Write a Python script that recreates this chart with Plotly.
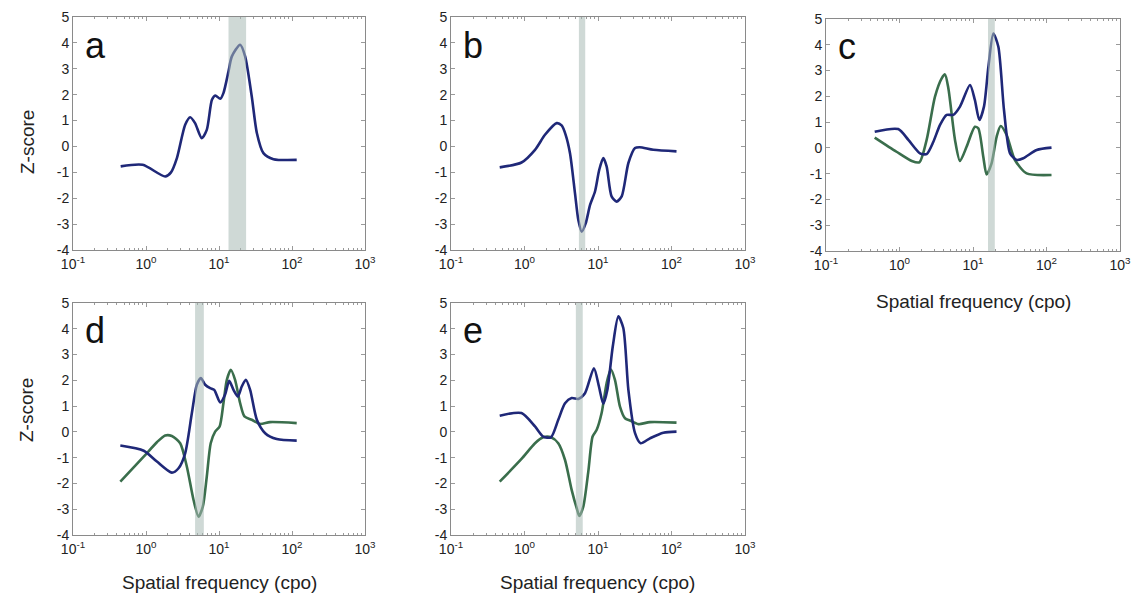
import plotly.graph_objects as go

# ---------------- data ----------------
a_x = [0.45, 0.9, 1.83, 2.2, 2.65, 3.44, 4.03, 4.7, 5.8, 6.8, 8.0, 8.9, 10.4, 11.5, 13.5, 15.0, 19.5, 22.8, 28.1, 33.0, 40.6, 55.7, 116]
a_blue = [-0.77, -0.71, -1.16, -1.0, -0.45, 0.84, 1.13, 0.9, 0.32, 0.64, 1.8, 1.97, 1.84, 2.06, 2.9, 3.48, 3.93, 3.48, 1.93, 0.52, -0.26, -0.49, -0.52]

b_x = [0.46, 0.91, 1.39, 1.9, 2.74, 3.2, 3.63, 4.16, 4.86, 5.4, 6.0, 6.8, 7.8, 9.1, 10.4, 11.8, 13.1, 15.3, 17.9, 21.0, 25.9, 31.9, 37.0, 56.6, 117]
b_blue = [-0.81, -0.62, -0.13, 0.45, 0.9, 0.81, 0.45, -0.26, -1.8, -2.84, -3.29, -2.97, -2.26, -1.74, -0.9, -0.45, -0.77, -1.93, -2.13, -1.93, -0.64, -0.06, -0.03, -0.13, -0.19]

c_blue_x = [0.46, 0.96, 1.32, 1.9, 2.34, 2.89, 3.56, 4.38, 5.4, 6.65, 9.1, 10.6, 12.2, 14.1, 16.2, 18.9, 22.1, 26.4, 31.9, 39.3, 48.4, 73.5, 117]
c_blue = [0.63, 0.73, 0.31, -0.21, -0.24, 0.24, 0.89, 1.28, 1.28, 1.6, 2.44, 1.86, 1.08, 1.6, 3.15, 4.44, 3.93, 1.47, -0.21, -0.47, -0.4, -0.08, 0.01]
c_green_x = [0.46, 0.91, 1.47, 1.86, 2.34, 3.04, 3.75, 4.16, 4.62, 5.69, 6.65, 8.2, 10.6, 11.8, 13.8, 15.3, 17.9, 21.0, 23.8, 28.7, 37.2, 53.7, 117]
c_green = [0.40, -0.15, -0.51, -0.56, 0.31, 1.99, 2.7, 2.85, 2.31, 0.31, -0.51, 0.05, 0.82, 0.76, -0.34, -1.03, -0.6, 0.44, 0.85, 0.5, -0.47, -0.99, -1.05]

d_blue_x = [0.445, 0.93, 1.41, 2.26, 2.79, 3.44, 4.25, 4.97, 5.64, 6.47, 7.57, 8.6, 10.4, 12.1, 13.8, 15.8, 18.1, 20.5, 23.3, 26.7, 33.0, 42.9, 61.8, 116]
d_blue = [-0.53, -0.73, -1.15, -1.58, -1.41, -0.83, 0.73, 1.83, 2.09, 1.83, 1.7, 1.63, 1.14, 1.44, 1.98, 1.63, 1.37, 1.76, 2.02, 1.63, 0.47, -0.05, -0.28, -0.34]
d_green_x = [0.445, 0.93, 1.41, 1.83, 2.26, 2.94, 3.63, 4.48, 5.24, 6.0, 6.8, 7.7, 8.86, 10.2, 11.5, 12.8, 14.5, 16.6, 19.5, 22.3, 28.1, 36.6, 50.0, 116]
d_green = [-1.93, -0.96, -0.4, -0.14, -0.16, -0.44, -1.35, -2.64, -3.29, -2.9, -1.74, -0.44, 0.01, 0.21, 1.11, 2.02, 2.41, 2.02, 1.11, 0.6, 0.47, 0.31, 0.38, 0.34]

e_blue_x = [0.46, 0.91, 1.39, 1.8, 2.29, 2.88, 3.56, 4.38, 5.4, 6.65, 8.8, 10.3, 11.8, 13.4, 15.9, 18.9, 22.1, 25.9, 31.9, 38.0, 50.9, 77.5, 117]
e_blue = [0.63, 0.73, 0.21, -0.18, -0.21, 0.47, 1.11, 1.31, 1.28, 1.5, 2.47, 1.76, 1.09, 1.63, 3.32, 4.48, 4.03, 1.63, -0.05, -0.44, -0.25, -0.03, 0.01]
e_green_x = [0.46, 0.91, 1.39, 1.8, 2.29, 2.88, 3.56, 4.38, 5.13, 5.57, 6.31, 7.38, 8.45, 9.6, 11.2, 13.1, 14.9, 17.0, 19.9, 23.3, 27.2, 35.4, 50.9, 117]
e_green = [-1.93, -1.05, -0.44, -0.21, -0.21, -0.44, -1.09, -2.25, -2.96, -3.26, -2.9, -1.54, -0.18, 0.08, 0.73, 1.89, 2.43, 2.02, 0.98, 0.53, 0.44, 0.3, 0.38, 0.36]

bands = {"a": (13.5, 23.5), "b": (5.5, 6.7), "c": (16.0, 19.8), "d": (4.7, 6.2), "e": (5.0, 6.2)}

x_tickvals = [0.1, 1, 10, 100, 1000]
x_ticktext = ["10<sup>-1</sup>", "10<sup>0</sup>", "10<sup>1</sup>", "10<sup>2</sup>", "10<sup>3</sup>"]
y_tickvals = [-4, -3, -2, -1, 0, 1, 2, 3, 4, 5]
y_ticktext = ["-4", "-3", "-2", "-1", "0", "1", "2", "3", "4", "5"]

BLUE = "#1f2878"
GREEN = "#3a6e4c"
W, H = 1133, 596

# ---------------- layout geometry (pixels) ----------------
panels = {
    "a": dict(x0=73, x1=365, y0=17, y1=250),
    "b": dict(x0=451, x1=745, y0=17, y1=250),
    "c": dict(x0=826, x1=1120, y0=19, y1=251),
    "d": dict(x0=73, x1=365, y0=303, y1=535),
    "e": dict(x0=451, x1=745, y0=303, y1=535),
}
series = {
    "a": [(a_x, a_blue, BLUE)],
    "b": [(b_x, b_blue, BLUE)],
    "c": [(c_green_x, c_green, GREEN), (c_blue_x, c_blue, BLUE)],
    "d": [(d_green_x, d_green, GREEN), (d_blue_x, d_blue, BLUE)],
    "e": [(e_green_x, e_green, GREEN), (e_blue_x, e_blue, BLUE)],
}

minor_vals = [m * 10 ** k for k in range(-1, 3) for m in range(2, 10)]

fig = go.Figure()
layout = dict(width=W, height=H, margin=dict(l=0, r=0, t=0, b=0, autoexpand=False),
              paper_bgcolor="white", plot_bgcolor="white", showlegend=False,
              font=dict(family="Liberation Sans, Arial, sans-serif", color="#222", size=14))
shapes = []
annotations = []

for i, key in enumerate(["a", "b", "c", "d", "e"]):
    p = panels[key]
    n = "" if i == 0 else str(i + 1)
    xa, ya = "x" + n, "y" + n
    for xs, ys, col in series[key]:
        fig.add_trace(go.Scatter(x=xs, y=ys, mode="lines", xaxis=xa, yaxis=ya,
                                 line=dict(color=col, width=2.6, shape="spline", smoothing=0.7)))
    axis_common = dict(showgrid=False, zeroline=False, showline=True, linecolor="#8a8a8a",
                       linewidth=1, mirror="ticks", ticks="inside", tickcolor="#9a9a9a",
                       automargin=False, tickfont=dict(size=14, color="#222"))
    layout["xaxis" + n] = dict(axis_common, type="log", range=[-1, 3],
                               domain=[p["x0"] / W, p["x1"] / W],
                               anchor=ya, tickmode="array", tickvals=x_tickvals, ticktext=x_ticktext,
                               ticklen=4, ticklabelstandoff=1,
                               minor=dict(tickmode="array", tickvals=minor_vals, ticks="inside",
                                          ticklen=2, tickcolor="#9a9a9a", showgrid=False))
    layout["yaxis" + n] = dict(axis_common, range=[-4, 5],
                               domain=[1 - p["y1"] / H, 1 - p["y0"] / H],
                               anchor=xa, tickmode="array", tickvals=y_tickvals, ticktext=y_ticktext,
                               ticklen=4)
    b0, b1 = bands[key]
    shapes.append(dict(type="rect", xref=xa, yref=ya, x0=b0, x1=b1, y0=-4, y1=5,
                       fillcolor="rgba(168,186,180,0.55)", line=dict(width=0), layer="above"))
    annotations.append(dict(text=key, xref="paper", yref="paper",
                            x=(p["x0"] + 10) / W, y=1 - (p["y0"] + 28) / H,
                            xanchor="left", yanchor="middle", showarrow=False,
                            font=dict(size=36, color="#111")))

for yc in [142, 410]:
    annotations.append(dict(text="Z-score", xref="paper", yref="paper", x=27 / W, y=1 - yc / H,
                            textangle=-90, showarrow=False, xanchor="center", yanchor="middle",
                            font=dict(size=19, color="#222")))
for xc, yc in [(973, 301), (219, 582), (598, 582)]:
    annotations.append(dict(text="Spatial frequency (cpo)", xref="paper", yref="paper",
                            x=xc / W, y=1 - yc / H, showarrow=False,
                            xanchor="center", yanchor="middle", font=dict(size=19, color="#222")))

layout["shapes"] = shapes
layout["annotations"] = annotations
fig.update_layout(**layout)
fig.write_html("out.html", config={"displayModeBar": False},
               post_script="document.body.style.margin='0';document.body.style.overflow='hidden';")
